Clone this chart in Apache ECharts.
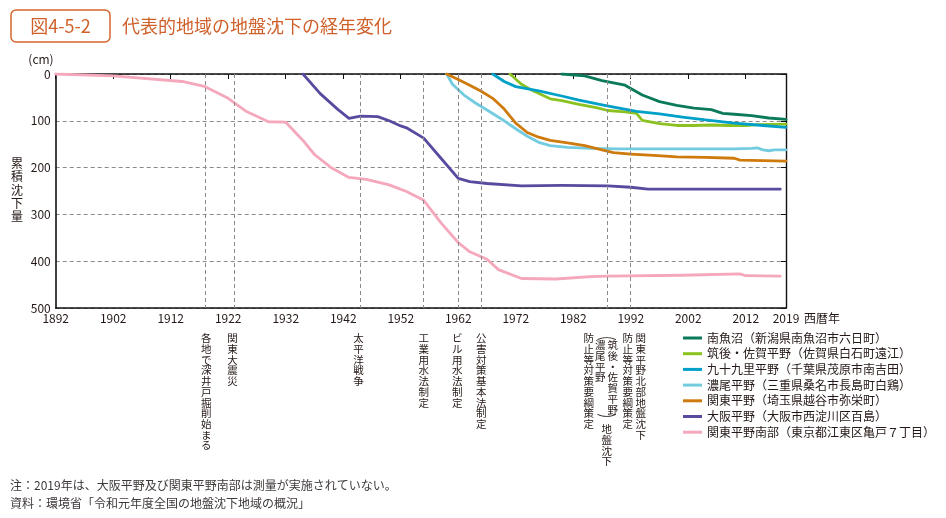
<!DOCTYPE html>
<html>
<head>
<meta charset="utf-8">
<script src="https://cdn.jsdelivr.net/npm/echarts@6/dist/echarts.min.js"></script>
<style>
html,body{margin:0;padding:0;background:#fff;}
#main{width:946px;height:518px;}
</style>
</head>
<body>
<div id="main"></div>
<script>
// ---------------- data ----------------
const seriesNames = [
  '南魚沼（新潟県南魚沼市六日町）',
  '筑後・佐賀平野（佐賀県白石町遠江）',
  '九十九里平野（千葉県茂原市南吉田）',
  '濃尾平野（三重県桑名市長島町白鶏）',
  '関東平野（埼玉県越谷市弥栄町）',
  '大阪平野（大阪市西淀川区百島）',
  '関東平野南部（東京都江東区亀戸７丁目）'
];

const uonumaYears  = [1980, 1984, 1987, 1991, 1994, 1997, 2000, 2003, 2006, 2008, 2010, 2013, 2016, 2019];
const uonumaValues = [0, 4, 14, 24, 45, 59, 67, 73, 76, 84, 86, 89, 94, 97];

const chikugoYears  = [1971, 1973, 1975, 1978, 1980, 1983, 1986, 1988, 1991, 1993, 1994, 1997, 2000, 2003, 2006, 2009, 2012, 2014, 2019];
const chikugoValues = [0, 22, 36, 53, 57, 65, 72, 78, 81, 84, 99, 106, 110, 110, 109, 110, 110, 108, 107];

const kujukuriYears  = [1968, 1970, 1972, 1976, 1980, 1983, 1987, 1990, 1993, 1997, 2001, 2005, 2010, 2015, 2019];
const kujukuriValues = [0, 16, 27, 36, 47, 56, 66, 73, 80, 85, 92, 98, 105, 110, 114];

const noubiYears  = [1960, 1961, 1963, 1965, 1967, 1970, 1972, 1974, 1976, 1978, 1981, 1985, 1990, 2000, 2010, 2013, 2014, 2015, 2016, 2017, 2019];
const noubiValues = [0, 22, 45, 62, 77, 100, 117, 133, 146, 153, 157, 159, 160, 160, 160, 159, 158, 162, 164, 162, 162];

const kantoYears  = [1960, 1962, 1964, 1966, 1968, 1970, 1972, 1974, 1976, 1978, 1981, 1984, 1987, 1989, 1992, 1996, 2000, 2005, 2010, 2011, 2015, 2019];
const kantoValues = [0, 12, 24, 37, 52, 75, 105, 125, 135, 142, 147, 153, 162, 168, 171, 174, 177, 178, 180, 184, 185, 186];

const osakaYears  = [1935, 1938, 1941, 1943, 1945, 1948, 1950, 1952, 1953, 1956, 1959, 1962, 1964, 1967, 1973, 1980, 1988, 1992, 1995, 2006, 2018];
const osakaValues = [0, 42, 75, 95, 90, 91, 100, 111, 115, 137, 180, 223, 230, 234, 239, 238, 239, 242, 246, 246, 246];

const kantoSouthYears  = [1892, 1902, 1914, 1918, 1922, 1925, 1929, 1932, 1935, 1937, 1940, 1943, 1946, 1950, 1953, 1956, 1959, 1962, 1964, 1967, 1969, 1973, 1979, 1985, 1988, 2001, 2011, 2012, 2018];
const kantoSouthValues = [0, 4, 16, 27, 52, 79, 102, 103, 142, 172, 201, 221, 225, 237, 251, 270, 318, 360, 380, 396, 418, 437, 438, 433, 432, 430, 427, 431, 432];

const eventYears = [1918, 1923, 1945, 1956, 1962, 1966, 1988, 1992];

const yearMin = 1892, yearMax = 2019, yearStep = 10;
const depthMin = 0, depthMax = 500, depthStep = 100;

// ---------------- styles ----------------
const seriesColors = ['#0b7a5a', '#8cc21f', '#00a0c9', '#73cbe0', '#cf7a0c', '#574ba0', '#f5a7bb'];
const FONT = '"Noto Sans CJK JP", "Noto Sans", sans-serif';
const TXT = '#231815';

const seriesYears  = [uonumaYears, chikugoYears, kujukuriYears, noubiYears, kantoYears, osakaYears, kantoSouthYears];
const seriesValues = [uonumaValues, chikugoValues, kujukuriValues, noubiValues, kantoValues, osakaValues, kantoSouthValues];

const chart = echarts.init(document.getElementById('main'), null, {renderer: 'canvas'});

const lineSeries = seriesNames.map((name, i) => ({
  name: name,
  type: 'line',
  xAxisIndex: 0,
  yAxisIndex: 0,
  data: seriesYears[i].map((y, k) => [y, seriesValues[i][k]]),
  showSymbol: false,
  symbol: 'none',
  color: seriesColors[i],
  lineStyle: {color: seriesColors[i], width: 2.8, cap: 'round', join: 'round'},
  z: 3,
  silent: true
}));

const eventSeries = {
  name: 'events',
  type: 'line',
  data: [],
  z: 1,
  silent: true,
  markLine: {
    silent: true,
    symbol: ['none', 'none'],
    label: {show: false},
    animation: false,
    lineStyle: {color: '#8a8a8a', type: [4, 3], width: 1},
    data: eventYears.map(y => ({xAxis: y}))
  }
};

const option = {
  animation: false,
  backgroundColor: '#fff',
  textStyle: {fontFamily: FONT},
  grid: {left: 55.7, right: 160, top: 74, bottom: 210, containLabel: false, outerBoundsMode: 'none'},
  legend: {
    data: seriesNames,
    orient: 'vertical',
    left: 683,
    top: 331,
    padding: 0,
    itemGap: 1.7,
    itemWidth: 19,
    itemHeight: 3,
    icon: 'rect',
    selectedMode: false,
    textStyle: {fontFamily: FONT, fontSize: 12, color: TXT, lineHeight: 14}
  },
  xAxis: [
    {
      type: 'value', position: 'bottom', min: yearMin, max: yearMax, interval: yearStep,
      axisLine: {onZero: false, lineStyle: {color: '#111', width: 1.6}},
      axisTick: {show: false},
      splitLine: {show: false},
      axisLabel: {fontFamily: FONT, fontSize: 12, color: TXT, margin: 4, showMaxLabel: true, showMinLabel: true,
                  formatter: v => String(Math.round(v))}
    },
    {
      type: 'value', position: 'top', min: yearMin, max: yearMax, interval: yearStep,
      axisLine: {onZero: false, lineStyle: {color: '#111', width: 1.6}},
      axisTick: {show: true, inside: true, length: 5, lineStyle: {color: '#111', width: 1}},
      splitLine: {show: false},
      axisLabel: {show: false}
    }
  ],
  yAxis: [
    {
      type: 'value', position: 'left', inverse: true, min: depthMin, max: depthMax, interval: depthStep,
      axisLine: {show: true, onZero: false, lineStyle: {color: '#111', width: 1.6}},
      axisTick: {show: false},
      splitLine: {show: true, lineStyle: {color: '#8a8a8a', type: [4, 3], width: 1}},
      axisLabel: {fontFamily: FONT, fontSize: 12, color: TXT, margin: 5, formatter: v => String(v)}
    },
    {
      type: 'value', position: 'right', inverse: true, min: depthMin, max: depthMax, interval: depthStep,
      axisLine: {show: true, onZero: false, lineStyle: {color: '#111', width: 1.4}},
      axisTick: {show: true, inside: true, length: 5, lineStyle: {color: '#111', width: 1}},
      splitLine: {show: false},
      axisLabel: {show: false}
    }
  ],
  series: [eventSeries].concat(lineSeries)
};

chart.setOption(option);

// ---------------- annotations ----------------
const px = y => chart.convertToPixel({xAxisIndex: 0}, y);
const VF = 10.5, VLH = 10.7;
function vtext(str, cx, top, extra) {
  return Object.assign({
    type: 'text', x: cx, y: top, silent: true,
    style: {
      text: str.split('').join('\n'),
      fill: TXT,
      font: VF + 'px ' + FONT,
      lineHeight: VLH,
      textAlign: 'center',
      textVerticalAlign: 'top'
    }
  }, extra || {});
}
function htext(str, x, y, size, color, align) {
  return {
    type: 'text', x: x, y: y, silent: true,
    style: {text: str, fill: color, font: size + 'px ' + FONT, textAlign: align || 'left', textVerticalAlign: 'middle'}
  };
}

const annTop = 333;
const g = [];
// title
g.push({type: 'rect', silent: true, shape: {x: 11, y: 10, width: 99, height: 32, r: 5},
        style: {fill: 'none', stroke: '#d6662c', lineWidth: 1.5}});
g.push(htext('図4-5-2', 60.5, 26.5, 18, '#d0602a', 'center'));
g.push(htext('代表的地域の地盤沈下の経年変化', 122, 26.5, 18, '#d0602a', 'left'));
// axis texts
g.push(htext('(cm)', 41, 59, 12, TXT, 'center'));
g.push({type: 'text', x: 17, y: 157, silent: true,
        style: {text: '累\n積\n沈\n下\n量', fill: TXT, font: '12px ' + FONT, lineHeight: 13.2, textAlign: 'center', textVerticalAlign: 'top'}});
g.push(htext('西暦年', 804, 318.5, 12, TXT, 'left'));
// notes
g.push(htext('注：2019年は、大阪平野及び関東平野南部は測量が実施されていない。', 10, 485, 12, '#3e3a39', 'left'));
g.push(htext('資料：環境省「令和元年度全国の地盤沈下地域の概況」', 10, 503, 12, '#3e3a39', 'left'));
// event annotations
g.push(vtext('各地で深井戸掘削始まる', px(1918) + 1, annTop));
g.push(vtext('関東大震災', px(1923) - 1.5, annTop));
g.push(vtext('太平洋戦争', px(1945) - 2, annTop));
g.push(vtext('工業用水法制定', px(1956), annTop));
g.push(vtext('ビル用水法制定', px(1962) - 1, annTop));
g.push(vtext('公害対策基本法制定', px(1966), annTop));
const x88 = px(1988);
g.push(vtext('︵', x88 - 1, annTop - 3, {scaleX: 1.9, originX: 0, originY: 0}));
g.push(vtext('筑後・佐賀平野', x88 + 5, annTop + 7));
g.push(vtext('濃尾平野', x88 - 7.5, annTop + 7));
g.push(vtext('︶', x88 - 1, annTop + 81, {scaleX: 1.9, originX: 0, originY: 0}));
g.push(vtext('地盤沈下', x88 - 1, annTop + 91));
g.push(vtext('防止等対策要綱策定', x88 - 19, annTop));
const x92 = px(1992);
g.push(vtext('関東平野北部地盤沈下', x92 + 10, annTop));
g.push(vtext('防止等対策要綱策定', x92 - 3, annTop));

chart.setOption({graphic: g});
</script>
</body>
</html>
